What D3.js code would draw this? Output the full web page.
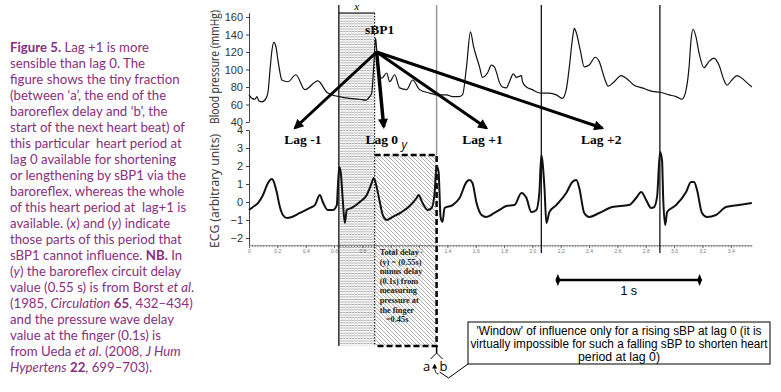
<!DOCTYPE html>
<html><head><meta charset="utf-8">
<script src="https://cdn.jsdelivr.net/npm/d3@7"></script>
<style>
html,body{margin:0;padding:0;background:#fff;}
svg{display:block;}
text{white-space:pre;}
</style>
</head><body>
<div id="chart"></div>
<script>
// ---------------- DATA ----------------
// Blood pressure trace: [time (s), pressure (mmHg)]
const bpTrace = [
[0,71],[0.021,67],[0.042,66],[0.056,69],[0.070,64],[0.092,63],[0.120,67],[0.134,74],[0.148,99],[0.162,122],
[0.176,131],[0.190,126],[0.204,111],[0.218,97],[0.232,88],[0.275,86],[0.331,94],[0.394,77],[0.486,87],[0.549,74],
[0.606,70],[0.634,69],[0.711,67],[0.782,66],[0.824,65],[0.852,69],[0.866,73],[0.880,103],[0.894,136],[0.901,122],
[0.915,97],[0.937,90],[0.972,96],[0.993,86],[1.028,94],[1.063,79],[1.113,77],[1.155,88],[1.204,77],[1.275,73],
[1.331,71],[1.394,71],[1.437,69],[1.479,69],[1.507,71],[1.535,103],[1.563,143],[1.585,126],[1.606,114],[1.627,103],
[1.648,91],[1.683,96],[1.711,105],[1.732,103],[1.746,97],[1.768,85],[1.789,80],[1.817,79],[1.838,86],[1.866,95],
[1.887,91],[1.923,93],[1.930,86],[1.958,80],[2.000,77],[2.035,74],[2.063,73],[2.120,73],[2.169,71],[2.211,67],
[2.239,77],[2.261,103],[2.282,134],[2.296,147],[2.310,142],[2.338,122],[2.366,103],[2.401,105],[2.444,114],[2.472,109],
[2.507,91],[2.535,81],[2.577,86],[2.627,93],[2.662,90],[2.718,82],[2.775,79],[2.845,75],[2.901,74],[2.965,71],
[3.014,69],[3.056,66],[3.085,77],[3.106,103],[3.120,134],[3.134,146],[3.155,137],[3.176,119],[3.211,102],[3.246,109],
[3.282,113],[3.317,105],[3.352,88],[3.373,82],[3.408,88],[3.444,93],[3.479,90],[3.514,85],[3.549,80]
];
// ECG trace: [time (s), arbitrary units]
const ecgTrace = [
[0,-0.44],[0.028,-0.28],[0.063,-0.06],[0.099,0.39],[0.134,1.06],[0.162,1.28],[0.176,1.11],[0.197,0.5],[0.218,-0.28],[0.239,-0.72],
[0.268,-0.89],[0.303,-0.83],[0.359,-0.61],[0.430,-0.33],[0.465,-0.17],[0.500,0.39],[0.521,0],[0.556,-0.44],[0.592,-0.44],[0.620,-0.17],
[0.627,0.83],[0.637,1.94],[0.648,1.6],[0.662,0.1],[0.676,-1.17],[0.690,-0.44],[0.725,-0.33],[0.782,0],[0.831,0.39],[0.866,1.06],
[0.880,1.33],[0.901,0.83],[0.923,0],[0.944,-0.72],[0.972,-1.0],[1.014,-0.83],[1.077,-0.56],[1.134,-0.22],[1.183,0.22],[1.197,0.39],
[1.225,-0.06],[1.261,-0.44],[1.289,-0.33],[1.310,0.5],[1.324,2.0],[1.338,1.67],[1.352,-0.83],[1.366,-1.1],[1.380,-0.33],[1.437,-0.17],
[1.486,0.22],[1.535,1.11],[1.556,1.22],[1.577,1.06],[1.606,-0.06],[1.641,-0.72],[1.676,-0.83],[1.732,-0.61],[1.768,-0.44],[1.817,-0.22],
[1.873,-0.17],[1.923,0.5],[1.958,0.22],[1.993,-0.56],[2.028,-0.44],[2.049,0.5],[2.063,2.6],[2.070,2.33],[2.085,0.83],[2.099,-1.17],
[2.120,-0.56],[2.169,-0.17],[2.239,0.5],[2.282,1.11],[2.310,1.22],[2.331,0.78],[2.366,-0.61],[2.401,-0.83],[2.472,-0.61],[2.563,-0.28],
[2.683,-0.17],[2.732,0.22],[2.768,0.56],[2.803,0.11],[2.838,-0.33],[2.859,-0.28],[2.880,0.28],[2.901,2.78],[2.915,2.33],[2.923,0.28],
[2.937,-1.28],[2.951,-0.56],[3.014,-0.17],[3.085,0.56],[3.120,1.11],[3.141,1.11],[3.162,0.67],[3.197,-0.61],[3.232,-0.83],[3.296,-0.72],
[3.366,-0.28],[3.458,-0.17],[3.549,-0.06]
];
const bpTicks = [40,60,80,100,120,140,160];
const ecgTicks = [-2,-1,0,1,2,3,4];
const timeTicks = [0,0.2,0.4,0.6,0.8,1.0,1.2,1.4,1.6,1.8,2.0,2.2,2.4,2.6,2.8,3.0,3.2,3.4];
// vertical markers (s): start of x, end of x / start of y, end of y (a|b), next beats
const markerTimes = [0.634, 0.887, 1.324, 2.063, 2.90];
// sBP1 origin [time, mmHg]
const sbp1 = [0.901, 120];
// lag arrows: label, arrow tip time, arrow tip level (ECG units), label time
const lagNames = ["Lag -1","Lag 0","Lag +1","Lag +2"];
const lagTipTime = [0.324, 0.951, 1.676, 2.493];
const lagTipLevel = [4.11, 4.17, 4.11, 4.11];
const lagLabelTime = [0.380, 0.937, 1.648, 2.486];
const lagLabelLevel = 3.39;
const scaleBar = [2.18, 3.18]; // 1 s

const captionLines = [
 [["Figure 5.","b"],[" Lag +1 is more",""]],
 [["sensible than lag 0. The",""]],
 [["figure shows the tiny fraction",""]],
 [["(between \u2018a\u2019, the end of the",""]],
 [["baroreflex delay and \u2018b\u2019, the",""]],
 [["start of the next heart beat) of",""]],
 [["this particular  heart period at",""]],
 [["lag 0 available for shortening",""]],
 [["or lengthening by sBP1 via the",""]],
 [["baroreflex, whereas the whole",""]],
 [["of this heart period at  lag+1 is",""]],
 [["available. (",""],["x","i"],[") and (",""],["y","i"],[") indicate",""]],
 [["those parts of this period that",""]],
 [["sBP1 cannot influence. ",""],["NB.","b"],[" In",""]],
 [["(",""],["y","i"],[") the baroreflex circuit delay",""]],
 [["value (0.55 s) is from Borst ",""],["et al","i"],[".",""]],
 [["(1985, ",""],["Circulation","i"],[" ",""],["65","b"],[", 432\u2013434)",""]],
 [["and the pressure wave delay",""]],
 [["value at the finger (0.1s) is",""]],
 [["from Ueda ",""],["et al","i"],[". (2008, ",""],["J Hum","i"]],
 [["Hypertens","i"],[" ",""],["22","b"],[", 699\u2013703).",""]]
];
const delayText = ["Total delay","(y) = (0.55s)","minus delay","(0.1s) from","measuring","pressure at","the finger","   =0.45s"];
const windowText = ["'Window' of influence only for a rising sBP at lag 0 (it is",
 "virtually impossible for such a falling sBP to shorten heart","period at lag 0)"];

// ---------------- DRAW ----------------
const W=781,H=392;
const svg=d3.select("#chart").append("svg").attr("width",W).attr("height",H);
const x=d3.scaleLinear().domain([0,3.55]).range([249,752]);
const yBP=d3.scaleLinear().domain([40,165]).range([122,12.6]);
const yE=d3.scaleLinear().domain([-2.4,4]).range([245.2,130]);
const narrow="'Liberation Sans Narrow','Arial Narrow','Liberation Sans',sans-serif";
const serif="'Liberation Serif','Times New Roman',serif";

const defs=svg.append("defs");
const pX=defs.append("pattern").attr("id","hx").attr("patternUnits","userSpaceOnUse").attr("width",3).attr("height",2.6);
pX.append("rect").attr("width",3).attr("height",2.6).attr("fill","#fafafa");
pX.append("rect").attr("width",3).attr("height",0.8).attr("fill","#a4a4a4");
pX.append("rect").attr("width",0.7).attr("height",2.6).attr("fill","#e2e2e2");
const pY=defs.append("pattern").attr("id","hy").attr("patternUnits","userSpaceOnUse").attr("width",4).attr("height",4);
pY.append("rect").attr("width",4).attr("height",4).attr("fill","#fbfbfb");
pY.append("path").attr("d","M-1,-1 L5,5 M-1,3 L1,5 M3,-1 L5,1").attr("stroke","#a0a0a0").attr("stroke-width",0.8);
defs.append("marker").attr("id","arr").attr("viewBox","0 0 10 10").attr("refX",8).attr("refY",5)
 .attr("markerWidth",12).attr("markerHeight",10).attr("markerUnits","userSpaceOnUse").attr("orient","auto")
 .append("path").attr("d","M0,0 L10,5 L0,10 z").attr("fill","#000");
defs.append("marker").attr("id","arrs").attr("viewBox","0 0 10 10").attr("refX",5).attr("refY",5)
 .attr("markerWidth",5).attr("markerHeight",5).attr("markerUnits","userSpaceOnUse").attr("orient","auto")
 .append("path").attr("d","M0,0 L10,5 L0,10 z").attr("fill","#000");

// Caption
const cap=svg.append("g").attr("fill","#87307c").attr("font-family","Lato,'Open Sans',sans-serif");
const capTexts=captionLines.map((segs,i)=>{
  const t=cap.append("text").attr("x",10).attr("y",49+i*16.0).attr("dominant-baseline","middle").attr("font-size",13);
  segs.forEach(s=>{const ts=t.append("tspan").text(s[0]);
    if(s[1]==="b")ts.attr("font-weight","bold");
    if(s[1]==="i")ts.attr("font-style","italic");});
  return t;
});
const refW=capTexts[5].node().getComputedTextLength();
const fs=13*175/refW;
capTexts.forEach(t=>t.attr("font-size",fs));

// hatched regions
const [mA,mB,mC,mD,mE]=markerTimes.map(x);
svg.append("rect").attr("x",mA).attr("y",13).attr("width",mB-mA).attr("height",346-13).attr("fill","url(#hx)");
svg.append("rect").attr("x",mB).attr("y",155).attr("width",mC-mB).attr("height",346-155).attr("fill","url(#hy)");

// axes
const gBP=svg.append("g").attr("transform","translate(249,0)")
 .call(d3.axisLeft(yBP).tickValues(bpTicks).tickSize(3).tickSizeOuter(0).tickFormat(d3.format("d")));
const gE=svg.append("g").attr("transform","translate(249,0)")
 .call(d3.axisLeft(yE).tickValues(ecgTicks).tickSize(3).tickSizeOuter(0).tickFormat(d=>d<0?"\u2212"+(-d):String(d)));
[gBP,gE].forEach(g=>{g.selectAll("text").attr("font-family",narrow).attr("font-size",11).attr("fill","#333");
 g.selectAll("line,path").attr("stroke","#444");});
const gT=svg.append("g").attr("transform","translate(0,245.2)")
 .call(d3.axisBottom(x).tickValues(d3.range(0,3.56,0.02)).tickSize(2).tickFormat("").tickSizeOuter(0));
gT.selectAll("line,path").attr("stroke","#666").attr("stroke-width",0.7);
const gT2=svg.append("g").attr("transform","translate(0,245.2)")
 .call(d3.axisBottom(x).tickValues(timeTicks).tickSize(3).tickPadding(1).tickSizeOuter(0)
 .tickFormat(d=>d===0?"0":d3.format(".1f")(d)));
gT2.select("path").remove();
gT2.selectAll("line").attr("stroke","#666");
gT2.selectAll("text").attr("font-size",5).attr("fill","#777").attr("font-family",narrow);

// axis labels
svg.append("text").attr("transform","translate(219,67) rotate(-90)").attr("text-anchor","middle")
 .attr("font-family","'Open Sans',sans-serif").attr("font-size",12.5).attr("fill","#333")
 .attr("textLength",114).attr("lengthAdjust","spacingAndGlyphs").text("Blood pressure (mmHg)");
svg.append("text").attr("transform","translate(219,191) rotate(-90)").attr("text-anchor","middle")
 .attr("font-family","'Open Sans',sans-serif").attr("font-size",12.5).attr("fill","#333")
 .attr("textLength",114).attr("lengthAdjust","spacingAndGlyphs").text("ECG (arbitrary units)");

// vertical markers
svg.append("line").attr("x1",mA).attr("x2",mA).attr("y1",5).attr("y2",346).attr("stroke","#000").attr("stroke-width",1.2);
svg.append("line").attr("x1",mA).attr("x2",mB).attr("y1",13).attr("y2",13).attr("stroke","#000").attr("stroke-width",1);
svg.append("line").attr("x1",mB).attr("x2",mB).attr("y1",13).attr("y2",346).attr("stroke","#000").attr("stroke-width",1).attr("stroke-dasharray","1.5,1.5");
svg.append("line").attr("x1",mC).attr("x2",mC).attr("y1",5).attr("y2",155).attr("stroke","#999").attr("stroke-width",1.5);
svg.append("path").attr("d",`M${mB},155 H${mC} V346 H${mB}`).attr("fill","none").attr("stroke","#000")
 .attr("stroke-width",2.5).attr("stroke-dasharray","6,3");
[mD,mE].forEach(m=>svg.append("line").attr("x1",m).attr("x2",m).attr("y1",5).attr("y2",253).attr("stroke","#000").attr("stroke-width",1.2));

// traces
svg.append("path").datum(bpTrace).attr("fill","none").attr("stroke","#111").attr("stroke-width",1.2)
 .attr("d",d3.line().x(d=>x(d[0])).y(d=>yBP(d[1])).curve(d3.curveMonotoneX));
svg.append("path").datum(ecgTrace).attr("fill","none").attr("stroke","#111").attr("stroke-width",2)
 .attr("stroke-linejoin","round").attr("d",d3.line().x(d=>x(d[0])).y(d=>yE(d[1])).curve(d3.curveMonotoneX));

// labels x, y
svg.append("text").attr("x",(mA+mB)/2).attr("y",10).attr("text-anchor","middle").attr("font-family",serif)
 .attr("font-style","italic").attr("font-size",11).text("x");
svg.append("text").attr("x",x(1.095)).attr("y",149).attr("text-anchor","middle").attr("font-family","'Open Sans',sans-serif")
 .attr("font-style","italic").attr("font-size",12).text("y");

// sBP1 + arrows
const ox=x(sbp1[0]), oy=yBP(sbp1[1]);
lagNames.forEach((n,i)=>{
  svg.append("line").attr("x1",ox).attr("y1",oy).attr("x2",x(lagTipTime[i])).attr("y2",yE(lagTipLevel[i]))
   .attr("stroke","#000").attr("stroke-width",i===1?3.5:3).attr("marker-end","url(#arr)");
  svg.append("text").attr("x",x(lagLabelTime[i])).attr("y",yE(lagLabelLevel)).attr("dominant-baseline","middle")
   .attr("text-anchor","middle").attr("font-family",serif).attr("font-weight","bold").attr("font-size",13.5).text(n);
});
svg.append("text").attr("x",ox+3).attr("y",31).attr("dominant-baseline","middle").attr("text-anchor","middle")
 .attr("font-family",serif).attr("font-weight","bold").attr("font-size",13.5).text("sBP1");

// delay text
delayText.forEach((t,i)=>svg.append("text").attr("x",mB+5).attr("y",253+i*9.6).attr("dominant-baseline","middle")
 .attr("font-family",serif).attr("font-weight","bold").attr("font-size",8.3).attr("fill","#222").text(t));

// a | b
svg.append("line").attr("x1",mC).attr("x2",mC).attr("y1",346).attr("y2",353).attr("stroke","#000").attr("stroke-width",1.5);
svg.append("path").attr("d",`M${mC-6},359 L${mC},353 L${mC+6},359`).attr("fill","none").attr("stroke","#000").attr("stroke-width",1);
svg.append("text").attr("x",mC-10).attr("y",368).attr("dominant-baseline","middle").attr("text-anchor","middle")
 .attr("font-family","'Open Sans',sans-serif").attr("font-size",13).text("a");
svg.append("text").attr("x",mC+7).attr("y",368).attr("dominant-baseline","middle").attr("text-anchor","middle")
 .attr("font-family","'Open Sans',sans-serif").attr("font-size",13).text("b");
svg.append("path").attr("d",`M${mC+2},374 Q${mC-2},374 ${mC-2},366`).attr("fill","none").attr("stroke","#000").attr("stroke-width",0.9).attr("marker-end","url(#arrs)");
svg.append("path").attr("d",`M${mC+3},372 L${mC+12},378 L468,364`).attr("fill","none").attr("stroke","#000").attr("stroke-width",1);

// window box
svg.append("rect").attr("x",468).attr("y",322).attr("width",302).attr("height",42).attr("fill","#fff").attr("stroke","#000").attr("stroke-width",1);
const wl=[285,297,null];
windowText.forEach((t,i)=>{const tx=svg.append("text").attr("x",619).attr("y",332+i*13).attr("dominant-baseline","middle")
 .attr("text-anchor","middle").attr("font-family",narrow).attr("font-size",12.3).text(t);
 if(wl[i]&&tx.node().getComputedTextLength()>wl[i]+4) tx.attr("textLength",wl[i]).attr("lengthAdjust","spacingAndGlyphs");});

// 1 s scale bar
const s0=x(scaleBar[0]), s1=x(scaleBar[1]);
svg.append("line").attr("x1",s0).attr("x2",s1).attr("y1",280).attr("y2",280).attr("stroke","#000").attr("stroke-width",2.5);
[s0,s1].forEach(s=>svg.append("path").attr("d",`M${s},274 L${s+2.5},280 L${s},286 L${s-2.5},280 z`).attr("fill","#000"));
svg.append("text").attr("x",(s0+s1)/2).attr("y",292).attr("dominant-baseline","middle").attr("text-anchor","middle")
 .attr("font-family",narrow).attr("font-size",12.5).text("1 s");
</script>
</body></html>
